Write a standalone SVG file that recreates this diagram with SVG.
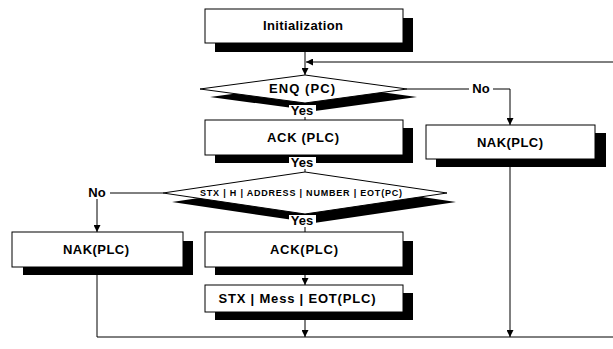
<svg xmlns="http://www.w3.org/2000/svg" width="613" height="349" viewBox="0 0 613 349">
<defs>
<style>
.box{fill:#fff;stroke:#000;stroke-width:1}
.sh{fill:#000}
.t{font-family:"Liberation Sans",Arial,sans-serif;font-size:13px;font-weight:bold;fill:#000;text-anchor:middle}
.s{font-family:"Liberation Sans",Arial,sans-serif;font-size:9px;font-weight:bold;fill:#000;text-anchor:middle}
.ln{fill:none;stroke:#000;stroke-width:1}
.bg{fill:#fff}
</style>
<marker id="ah" viewBox="0 0 8 8" refX="8" refY="4" markerWidth="7" markerHeight="7" orient="auto" markerUnits="userSpaceOnUse">
<path d="M0,0 L8,4 L0,8 z" fill="#000"/>
</marker>
</defs>
<rect width="613" height="349" fill="#fff"/>
<g id="connectors">
<path class="ln" d="M305,52 V75" marker-end="url(#ah)"/>
<path class="ln" d="M613,62 H306" marker-end="url(#ah)"/>
<path class="ln" d="M305,103 V120"/>
<path class="ln" d="M407,89 H510 V125" marker-end="url(#ah)"/>
<path class="ln" d="M305,155 V172"/>
<path class="ln" d="M163,193 H97 V232" marker-end="url(#ah)"/>
<path class="ln" d="M305,214 V232"/>
<path class="ln" d="M305,275 V285" marker-end="url(#ah)"/>
<path class="ln" d="M305,320 V337" marker-end="url(#ah)"/>
<path class="ln" d="M97,275 V337 H613"/>
<path class="ln" d="M510,167 V337" marker-end="url(#ah)"/>
</g>
<g id="init">
<rect class="sh" x="215" y="18" width="198" height="34"/>
<rect class="box" x="205" y="9" width="198" height="34"/>
<text class="t" x="303" y="30" textLength="80" lengthAdjust="spacing">Initialization</text>
</g>
<g id="enq">
<polygon class="sh" points="210,97 315,83 417,97 315,111"/>
<polygon class="box" points="200,89 305,75 407,89 305,103"/>
<text class="t" x="302" y="93" textLength="66" lengthAdjust="spacing">ENQ (PC)</text>
</g>
<g id="ack1">
<rect class="sh" x="215" y="128" width="198" height="35"/>
<rect class="box" x="205" y="120" width="198" height="35"/>
<text class="t" x="303" y="142" textLength="72" lengthAdjust="spacing">ACK (PLC)</text>
</g>
<g id="nak-right">
<rect class="sh" x="436" y="133" width="170" height="34"/>
<rect class="box" x="426" y="125" width="169" height="34"/>
<text class="t" x="510" y="147" textLength="66" lengthAdjust="spacing">NAK(PLC)</text>
</g>
<g id="check">
<polygon class="sh" points="172,202 314,181 456,202 314,223"/>
<polygon class="box" points="163,193 305,172 447,193 305,214"/>
<text class="s" x="301" y="196" textLength="202" lengthAdjust="spacing">STX | H | ADDRESS | NUMBER | EOT(PC)</text>
</g>
<g id="nak-left">
<rect class="sh" x="23" y="241" width="170" height="34"/>
<rect class="box" x="12" y="232" width="171" height="35"/>
<text class="t" x="96" y="254" textLength="66" lengthAdjust="spacing">NAK(PLC)</text>
</g>
<g id="ack2">
<rect class="sh" x="215" y="241" width="198" height="34"/>
<rect class="box" x="205" y="232" width="198" height="35"/>
<text class="t" x="304" y="254" textLength="68" lengthAdjust="spacing">ACK(PLC)</text>
</g>
<g id="mess">
<rect class="sh" x="215" y="293" width="198" height="27"/>
<rect class="box" x="205" y="285" width="198" height="27"/>
<text class="t" x="297" y="303" textLength="157" lengthAdjust="spacing">STX | Mess | EOT(PLC)</text>
</g>
<g id="labels">
<rect class="bg" x="289" y="105" width="27" height="12"/>
<text class="t" x="302" y="115">Yes</text>
<rect class="bg" x="289" y="157" width="27" height="12"/>
<text class="t" x="302" y="167">Yes</text>
<rect class="bg" x="289" y="215" width="27" height="12"/>
<text class="t" x="302" y="225">Yes</text>
<rect class="bg" x="469" y="83" width="24" height="12"/>
<text class="t" x="481" y="93">No</text>
<rect class="bg" x="85" y="187" width="25" height="12"/>
<text class="t" x="97" y="197">No</text>
</g>
</svg>
